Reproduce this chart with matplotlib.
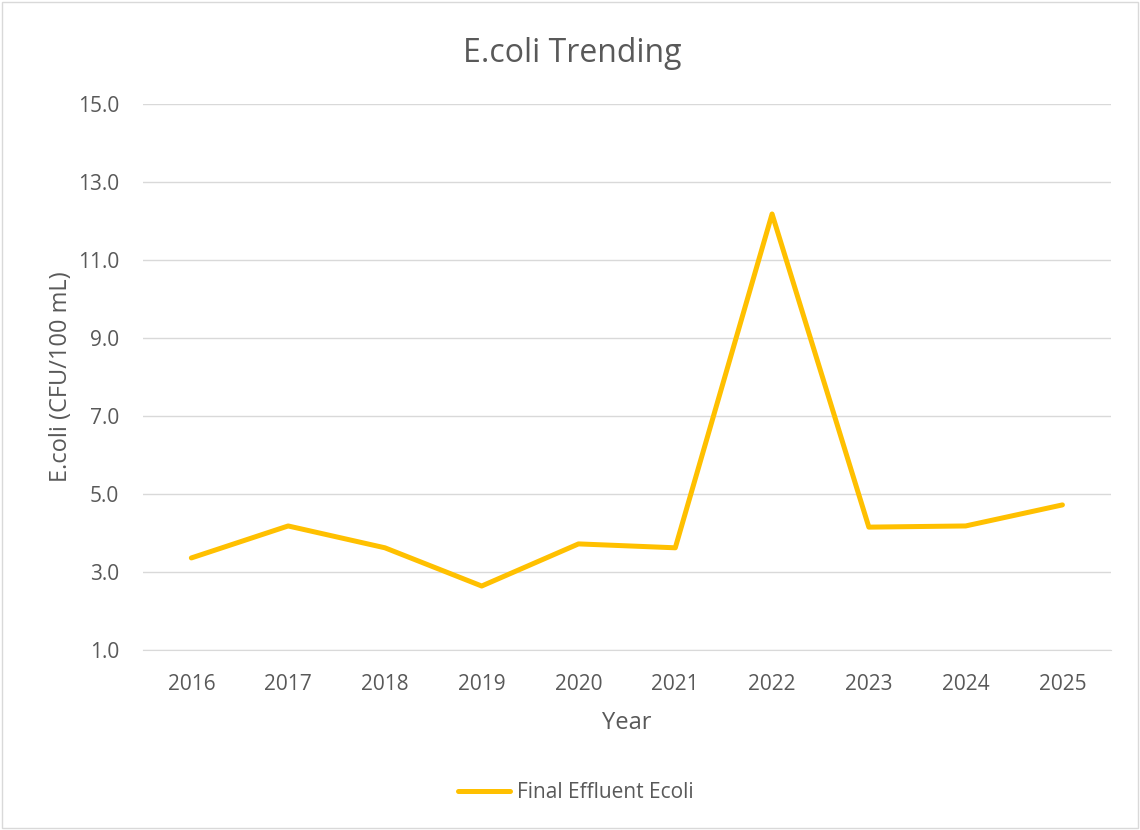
import matplotlib
matplotlib.use("Agg")
import matplotlib.pyplot as plt
from matplotlib.patches import Rectangle

plt.rcParams['font.family'] = ['Open Sans', 'DejaVu Sans']

years = ['2016', '2017', '2018', '2019', '2020', '2021', '2022', '2023', '2024', '2025']
ecoli = [3.36, 4.18, 3.62, 2.64, 3.72, 3.62, 12.18, 4.15, 4.18, 4.72]
yticks = [1.0, 3.0, 5.0, 7.0, 9.0, 11.0, 13.0, 15.0]

txt = '#595959'
grid = '#d9d9d9'

fig = plt.figure(figsize=(11.4, 8.3), dpi=100)
fig.patches.append(Rectangle((0.002, 0.002), 0.996, 0.996, transform=fig.transFigure,
                             fill=False, edgecolor='#d9d9d9', linewidth=1))
ax = fig.add_axes([0.1254, 0.2169, 0.849, 0.6578])

x = list(range(len(years)))
ax.plot(x, ecoli, color='#FFC000', linewidth=3.6, solid_capstyle='round',
        solid_joinstyle='round', label='Final Effluent Ecoli')

ax.set_xlim(-0.5, len(years) - 0.5)
ax.set_ylim(1.0, 15.0)
ax.set_yticks(yticks)
ax.set_yticklabels([f'{v:.1f}' for v in yticks])
ax.set_xticks(x)
ax.set_xticklabels(years)
ax.grid(axis='y', color=grid, linewidth=1)
ax.set_axisbelow(True)
for s in ['top', 'right', 'left']:
    ax.spines[s].set_visible(False)
ax.spines['bottom'].set_color(grid)
ax.tick_params(length=0, labelsize=15, colors=txt)
ax.tick_params(axis='x', pad=17)
ax.tick_params(axis='y', pad=17)

fig.suptitle('E.coli Trending', x=0.502, y=0.935, va='center', fontsize=23, color=txt)
ax.set_xlabel('Year', fontsize=17, color=txt, labelpad=12)
ax.set_ylabel('E.coli (CFU/100 mL)', fontsize=17, color=txt, labelpad=4)

leg = fig.legend(loc='center', bbox_to_anchor=(0.505, 0.045), frameon=False,
                 fontsize=15, handlelength=2.5, handletextpad=0.3)
for t in leg.get_texts():
    t.set_color(txt)

fig.savefig('out.png', dpi=100)
